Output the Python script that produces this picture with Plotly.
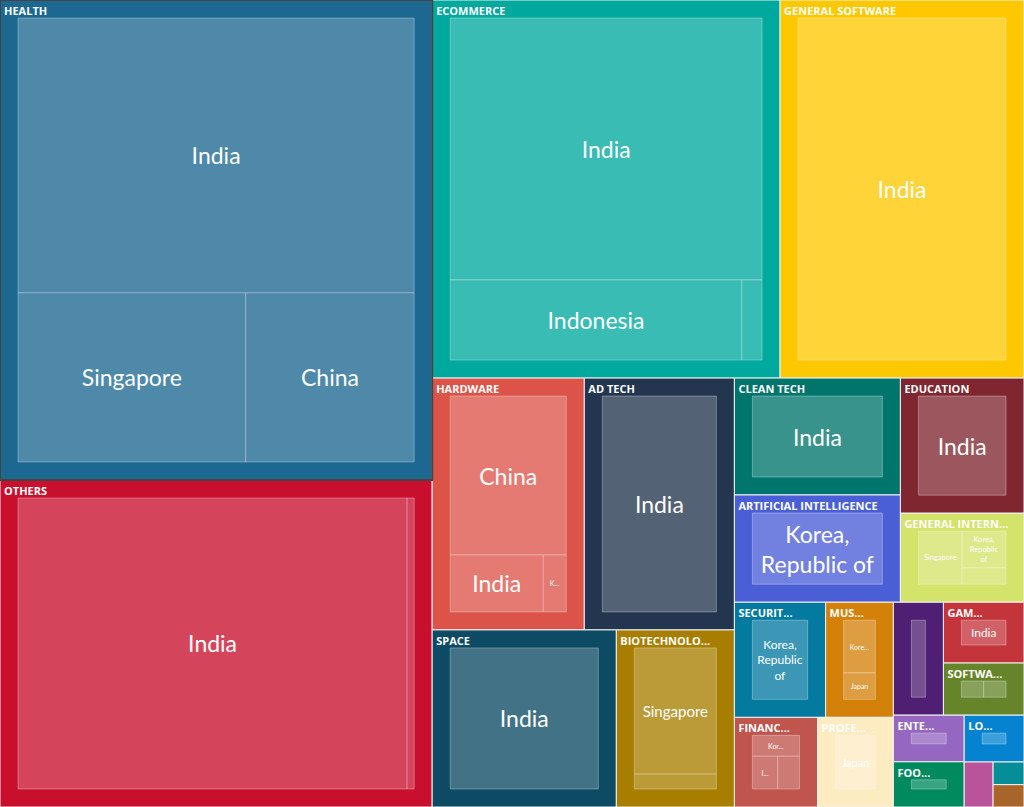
import plotly.graph_objects as go

# sectors, largest first (real name, text shown in the header)
sector_names = [
    "HEALTH", "OTHERS", "ECOMMERCE", "GENERAL SOFTWARE", "HARDWARE", "AD TECH",
    "SPACE", "BIOTECHNOLOGY", "CLEAN TECH", "ARTIFICIAL INTELLIGENCE", "EDUCATION",
    "GENERAL INTERNET", "SECURITY", "MUSIC", "FINANCIAL SERVICES",
    "PROFESSIONAL SERVICES", "MEDIA", "GAMING", "SOFTWARE DEVELOPMENT",
    "ENTERTAINMENT", "FOOD & BEVERAGE", "LOGISTICS", "TRAVEL", "REAL ESTATE",
    "AGRICULTURE",
]
sector_titles = [
    "HEALTH", "OTHERS", "ECOMMERCE", "GENERAL SOFTWARE", "HARDWARE", "AD TECH",
    "SPACE", "BIOTECHNOLO...", "CLEAN TECH", "ARTIFICIAL INTELLIGENCE", "EDUCATION",
    "GENERAL INTERN...", "SECURIT...", "MUS...", "FINANC...",
    "PROFE...", " ", "GAM...", "SOFTWA...",
    "ENTE...", "FOO...", "LO...", " ", " ", " ",
]

# countries inside each sector
leaf_sector = [
    "HEALTH", "HEALTH", "HEALTH",
    "OTHERS", "OTHERS",
    "ECOMMERCE", "ECOMMERCE", "ECOMMERCE",
    "GENERAL SOFTWARE",
    "HARDWARE", "HARDWARE", "HARDWARE",
    "AD TECH",
    "SPACE",
    "BIOTECHNOLOGY", "BIOTECHNOLOGY",
    "CLEAN TECH",
    "ARTIFICIAL INTELLIGENCE",
    "EDUCATION",
    "GENERAL INTERNET", "GENERAL INTERNET", "GENERAL INTERNET",
    "SECURITY",
    "MUSIC", "MUSIC",
    "FINANCIAL SERVICES", "FINANCIAL SERVICES", "FINANCIAL SERVICES",
    "PROFESSIONAL SERVICES",
    "MEDIA",
    "GAMING",
    "SOFTWARE DEVELOPMENT", "SOFTWARE DEVELOPMENT",
    "ENTERTAINMENT",
    "FOOD & BEVERAGE",
    "LOGISTICS",
    "TRAVEL",
    "REAL ESTATE",
    "AGRICULTURE",
]
leaf_country = [
    "India", "Singapore", "China",
    "India", "Singapore",
    "India", "Indonesia", "Singapore",
    "India",
    "China", "India", "Korea, Republic of",
    "India",
    "India",
    "Singapore", "India",
    "India",
    "Korea, Republic of",
    "India",
    "Singapore", "Korea, Republic of", "India",
    "Korea, Republic of",
    "Korea, Republic of", "Japan",
    "Korea, Republic of", "India", "Singapore",
    "Japan",
    "India",
    "India",
    "India", "Singapore",
    "India",
    "India",
    "India",
    "India",
    "India",
    "India",
]
leaf_value = [
    128.4, 45.4, 33.6,
    138.8, 2.5,
    100.7, 28.8, 2.0,
    92.2,
    28.2, 8.1, 2.0,
    37.8,
    32.6,
    18.7, 2.2,
    19.4,
    17.8,
    16.7,
    5.5, 3.8, 1.7,
    10.5,
    5.2, 2.6,
    2.9, 2.45, 2.1,
    6.8,
    5.65,
    4.9,
    2.1, 2.1,
    3.3,
    3.2,
    2.8,
    1.3,
    0.70,
    0.69,
]
leaf_text = [
    "India", "Singapore", "China",
    "India", " ",
    "India", "Indonesia", " ",
    "India",
    "China", "India", "K...",
    "India",
    "India",
    "Singapore", " ",
    "India",
    "Korea,<br>Republic of",
    "India",
    "Singapore", "Korea,<br>Republic<br>of", " ",
    "Korea,<br>Republic<br>of",
    "Kore...", "Japan",
    "Kor...", "I...", " ",
    "Japan",
    " ",
    "India",
    " ", " ",
    " ",
    " ",
    " ",
    " ",
    " ",
    " ",
]

# styles
sector_colors = {
    "HEALTH": "#1c6891", "OTHERS": "#c8102e", "ECOMMERCE": "#00a99d",
    "GENERAL SOFTWARE": "#fec800", "HARDWARE": "#dc5449", "AD TECH": "#24364f",
    "SPACE": "#0d4a63", "BIOTECHNOLOGY": "#a87e00", "CLEAN TECH": "#00756b",
    "ARTIFICIAL INTELLIGENCE": "#4a5ed6", "EDUCATION": "#7f2630",
    "GENERAL INTERNET": "#d4e36a", "SECURITY": "#047aa0", "MUSIC": "#d4810a",
    "FINANCIAL SERVICES": "#c0554d", "PROFESSIONAL SERVICES": "#fdebc2",
    "MEDIA": "#4e1f72", "GAMING": "#c4343b", "SOFTWARE DEVELOPMENT": "#66852a",
    "ENTERTAINMENT": "#9567c0", "FOOD & BEVERAGE": "#008a5e", "LOGISTICS": "#0583d0",
    "TRAVEL": "#b9549b", "REAL ESTATE": "#068e98", "AGRICULTURE": "#a7652a",
}
leaf_font_sizes = [
    23, 23, 23,
    23, 8,
    23, 23, 8,
    23,
    23, 23, 7,
    23,
    23,
    15, 8,
    23,
    23,
    23,
    7.5, 7.5, 7,
    12,
    7, 7,
    7, 7, 7,
    11,
    7,
    12,
    7, 7,
    7,
    7,
    7,
    7,
    7,
    7,
]


def tint(hex_color, amount=0.22):
    r, g, b = (int(hex_color[i:i + 2], 16) for i in (1, 3, 5))
    r, g, b = (round(c + (255 - c) * amount) for c in (r, g, b))
    return "#{:02x}{:02x}{:02x}".format(r, g, b)


ids = sector_names + [s + "/" + c for s, c in zip(leaf_sector, leaf_country)]
parents = [""] * len(sector_names) + leaf_sector
values = [0] * len(sector_names) + leaf_value
n_s = len(sector_names)
n_l = len(leaf_country)
clear = "rgba(0,0,0,0)"
font = "Source Sans Pro, Lato, sans-serif"
head_font = "Source Sans Pro, Open Sans, sans-serif"

# plotly pads the (hidden) root too, so the canvas is larger than the
# window and shifted back by OFFSET; each layer's domain absorbs its own pad
FRAME = 18                      # band round the country boxes
HEAD_T, HEAD_SIDE = 26, 4       # header band used only for placing titles
OFFSET = max(FRAME, HEAD_T)
W, H = 1024 + 2 * OFFSET, 807 + 2 * OFFSET

# back layer: sector boxes and their headers
back = go.Treemap(
    ids=ids, labels=sector_titles + leaf_country, parents=parents, values=values,
    branchvalues="remainder", sort=True,
    text=sector_titles + [" "] * n_l,
    texttemplate="%{text}",
    textposition="top left",
    textfont=dict(family=head_font, size=11, color="white", weight="bold"),
    marker=dict(
        colors=[sector_colors[s] for s in sector_names] + [clear] * n_l,
        line=dict(width=[1] * n_s + [0] * n_l, color="#f2f2f2"),
        pad=dict(t=HEAD_T, l=HEAD_SIDE, r=HEAD_SIDE, b=HEAD_SIDE),
    ),
    tiling=dict(packing="binary", pad=0),
    pathbar=dict(visible=False),
    domain=dict(
        x=[(OFFSET - HEAD_SIDE) / W, (W - OFFSET + HEAD_SIDE) / W],
        y=[(OFFSET - HEAD_SIDE) / H, (H - OFFSET + HEAD_T) / H],
    ),
    hoverinfo="skip",
)

# front layer: country boxes with centred labels
front = go.Treemap(
    ids=ids, labels=[" "] * n_s + leaf_country, parents=parents, values=values,
    branchvalues="remainder", sort=True,
    text=[" "] * n_s + leaf_text,
    texttemplate="%{text}",
    textposition="middle center",
    textfont=dict(family=font, size=[11] * n_s + leaf_font_sizes, color="white"),
    marker=dict(
        colors=[clear] * n_s + [tint(sector_colors[s]) for s in leaf_sector],
        line=dict(width=[0] * n_s + [1] * n_l,
                  color=[clear] * n_s + ["rgba(255,255,255,0.3)"] * n_l),
        pad=dict(t=FRAME, l=FRAME, r=FRAME, b=FRAME),
    ),
    tiling=dict(packing="binary", pad=0),
    pathbar=dict(visible=False),
    domain=dict(
        x=[(OFFSET - FRAME) / W, (W - OFFSET + FRAME) / W],
        y=[(OFFSET - FRAME) / H, (H - OFFSET + FRAME) / H],
    ),
    hoverinfo="skip",
)

fig = go.Figure(data=[back, front])
fig.update_layout(
    width=W, height=H,
    margin=dict(l=0, r=0, t=0, b=0),
    paper_bgcolor="white",
)
fig.write_html(
    "out.html",
    config={"displayModeBar": False},
    post_script=(
        "document.body.style.margin='0';"
        "document.body.style.overflow='hidden';"
        "var gd=document.getElementById('{plot_id}');"
        "gd.style.position='absolute';"
        "gd.style.left='-%dpx';gd.style.top='-%dpx';" % (OFFSET, OFFSET)
    ),
)
